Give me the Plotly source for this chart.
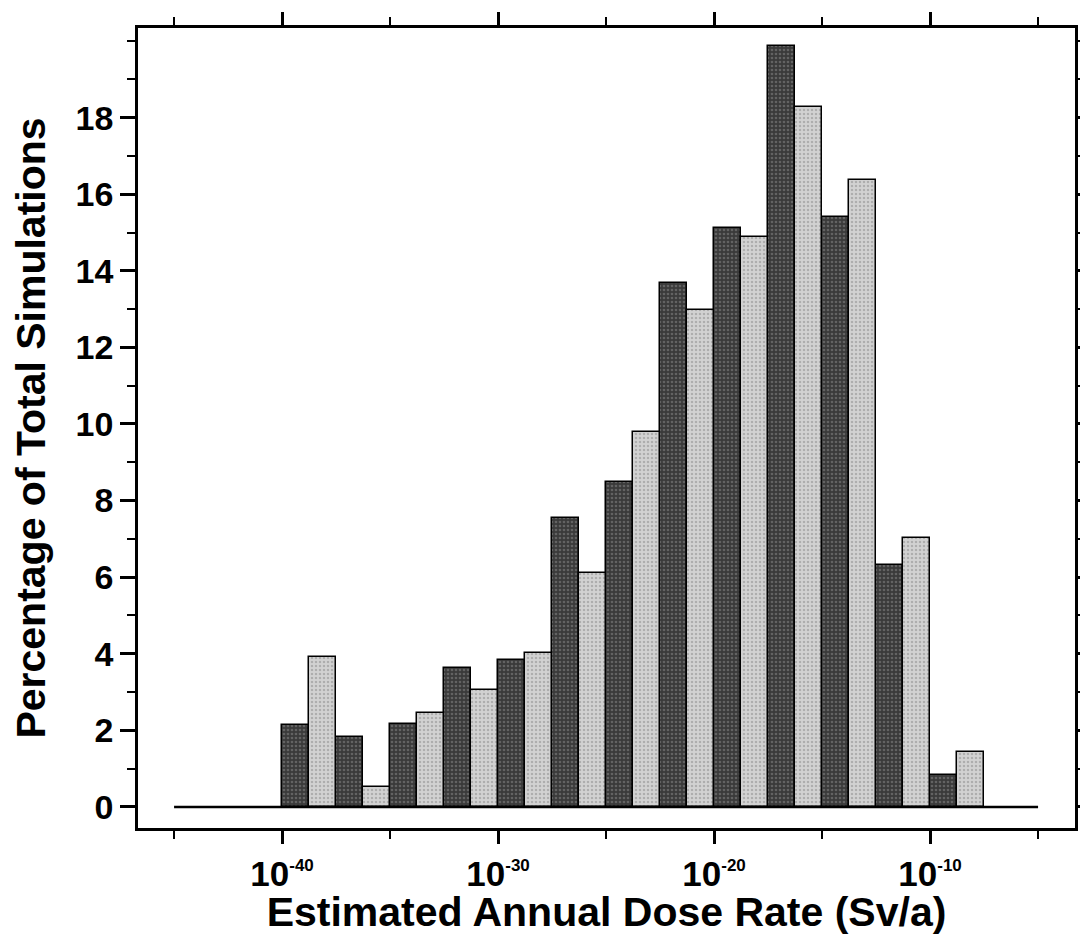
import plotly.graph_objects as go

# Bin lower edges, log10 of annual dose rate (Sv/a)
bin_lower = [-40.0, -38.75, -37.5, -36.25, -35.0, -33.75, -32.5, -31.25,
             -30.0, -28.75, -27.5, -26.25, -25.0, -23.75, -22.5, -21.25,
             -20.0, -18.75, -17.5, -16.25, -15.0, -13.75, -12.5, -11.25,
             -10.0, -8.75]
bin_width = 1.25
percent = [2.14, 3.92, 1.83, 0.52, 2.17, 2.45, 3.63, 3.05,
           3.84, 4.02, 7.55, 6.11, 8.49, 9.79, 13.68, 12.98,
           15.12, 14.88, 19.87, 18.28, 15.40, 16.37, 6.32, 7.02,
           0.84, 1.44]
baseline_x = [-45, -5]
baseline_y = [0, 0]

x_tickvals = [-40, -30, -20, -10]
x_ticktext = ["10<sup><span style='font-size:17px'>-40</span></sup>",
              "10<sup><span style='font-size:17px'>-30</span></sup>",
              "10<sup><span style='font-size:17px'>-20</span></sup>",
              "10<sup><span style='font-size:17px'>-10</span></sup>"]
y_tickvals = [0, 2, 4, 6, 8, 10, 12, 14, 16, 18]

centers = [b + bin_width / 2 for b in bin_lower]
dark_x = centers[0::2]
dark_y = percent[0::2]
light_x = centers[1::2]
light_y = percent[1::2]

fig = go.Figure()
fig.add_trace(go.Scatter(x=baseline_x, y=baseline_y, mode="lines",
                         line=dict(color="black", width=2.5),
                         showlegend=False, hoverinfo="skip"))
fig.add_trace(go.Bar(x=dark_x, y=dark_y, width=bin_width,
                     marker=dict(color="#3a3a3a",
                                 line=dict(color="black", width=1.5),
                                 pattern=dict(shape=".", fgcolor="#8c8c8c",
                                              size=4, solidity=0.35,
                                              fillmode="overlay")),
                     showlegend=False))
fig.add_trace(go.Bar(x=light_x, y=light_y, width=bin_width,
                     marker=dict(color="#d2d2d2",
                                 line=dict(color="black", width=1.5),
                                 pattern=dict(shape=".", fgcolor="#8a8a8a",
                                              size=4, solidity=0.3,
                                              fillmode="overlay")),
                     showlegend=False))

font_family = "Liberation Sans, Arial, sans-serif"

fig.update_layout(
    width=1080, height=927,
    margin=dict(l=130, r=13, t=20, b=107, autoexpand=False),
    paper_bgcolor="white", plot_bgcolor="white",
    barmode="overlay", bargap=0,
    font=dict(family=font_family, color="black"),
    xaxis=dict(
        range=[-46.67, -3.29], automargin=False,
        tickvals=x_tickvals, ticktext=x_ticktext,
        ticks="outside", ticklen=13, tickwidth=2.5, tickcolor="black",
        minor=dict(dtick=5, tick0=-45, ticks="outside", ticklen=8,
                   tickwidth=2, tickcolor="black", showgrid=False),
        showline=True, linecolor="black", linewidth=2.5, mirror="ticks",
        showgrid=False, zeroline=False,
        tickfont=dict(size=35, family=font_family, weight="bold"),
        title=dict(text="<b>Estimated Annual Dose Rate (Sv/a)</b>",
                   font=dict(size=41, family=font_family), standoff=8),
    ),
    yaxis=dict(
        range=[-0.55, 20.34], automargin=False,
        tickvals=y_tickvals,
        ticks="outside", ticklen=15, tickwidth=2.5, tickcolor="black",
        minor=dict(dtick=1, tick0=0, ticks="outside", ticklen=8,
                   tickwidth=2, tickcolor="black", showgrid=False),
        showline=True, linecolor="black", linewidth=2.5, mirror="ticks",
        showgrid=False, zeroline=False,
        tickfont=dict(size=34, family=font_family, weight="bold"),
        title=dict(text="<b>Percentage of Total Simulations</b>",
                   font=dict(size=41, family=font_family), standoff=24),
    ),
)

fig.write_html("out.html")
